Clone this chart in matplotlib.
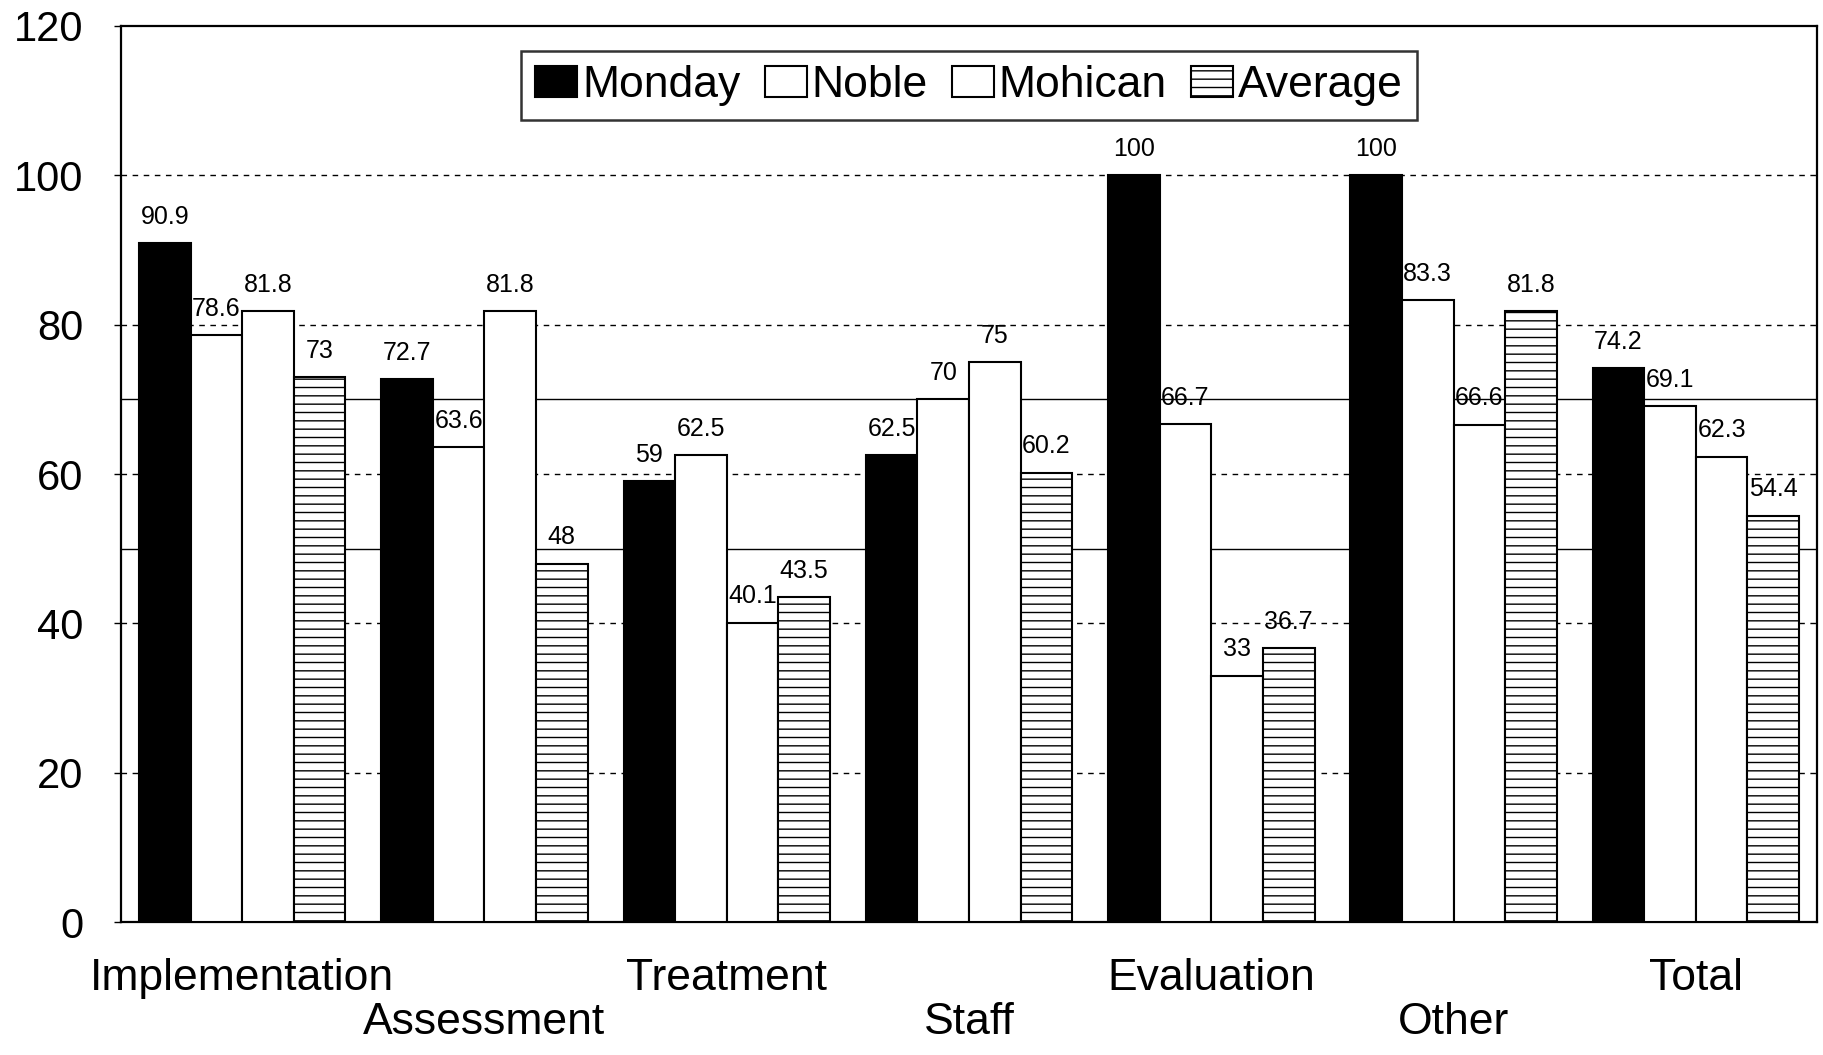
import matplotlib
matplotlib.use("Agg")
import matplotlib.pyplot as plt
import numpy as np

plt.rcParams['font.family'] = ['Liberation Sans', 'DejaVu Sans']
plt.rcParams['hatch.linewidth'] = 1.0

categories = ["Implementation", "Assessment", "Treatment", "Staff",
              "Evaluation", "Other", "Total"]
series_names = ["Monday", "Noble", "Mohican", "Average"]
monday = [90.9, 72.7, 59, 62.5, 100, 100, 74.2]
noble = [78.6, 63.6, 62.5, 70, 66.7, 83.3, 69.1]
mohican = [81.8, 81.8, 40.1, 75, 33, 66.6, 62.3]
average = [73, 48, 43.5, 60.2, 36.7, 81.8, 54.4]
y_ticks = [0, 20, 40, 60, 80, 100, 120]

series = [monday, noble, mohican, average]
faces = ["black", "white", "white", "white"]
hatches = [None, None, None, "--"]

fig = plt.figure(figsize=(18.23, 10.55), dpi=100)
ax = fig.add_axes([0.0664, 0.126, 0.9303, 0.8494])

x = np.arange(len(categories))
w = 0.213

# Reference lines behind the bars
for yv in [20, 40, 60, 80, 100]:
    ax.axhline(yv, color="black", lw=1.0, ls=(0, (4, 4)), zorder=1)
for yv in [50, 70]:
    ax.axhline(yv, color="black", lw=1.0, zorder=1)

for i, (vals, name) in enumerate(zip(series, series_names)):
    pos = x + (i - 1.5) * w
    ax.bar(pos, vals, width=w, color=faces[i], edgecolor="black",
           linewidth=1.5, hatch=hatches[i], label=name, zorder=3)
    for px, v in zip(pos, vals):
        ax.annotate(f"{v:g}", (px, v), xytext=(0, 19), textcoords="offset points",
                    ha="center", va="center", fontsize=18, zorder=4)

ax.set_xlim(-0.5, 6.5)
ax.set_ylim(0, 120)
ax.set_yticks(y_ticks)
ax.set_yticklabels([str(t) for t in y_ticks], fontsize=30)
ax.tick_params(axis="y", length=5, width=1, pad=22, direction="out")
ax.set_xticks([])
for s in ax.spines.values():
    s.set_linewidth(1.6)
    s.set_color("black")

# Category names on two staggered rows
for i, c in enumerate(categories):
    yl = -7.6 if i % 2 == 0 else -13.4
    ax.text(i, yl, c, ha="center", va="center", fontsize=32, clip_on=False)

leg = ax.legend(loc="upper center", bbox_to_anchor=(0.5, 1 - 25 / 896), ncol=4,
                fontsize=32, frameon=True, fancybox=False, edgecolor="black",
                handlelength=0.95, handleheight=0.68, handletextpad=0.1,
                columnspacing=0.55, borderpad=0.32, borderaxespad=0)
leg.get_frame().set_linewidth(1.8)
leg.set_zorder(5)

fig.savefig("out.png", dpi=100, facecolor="white")
